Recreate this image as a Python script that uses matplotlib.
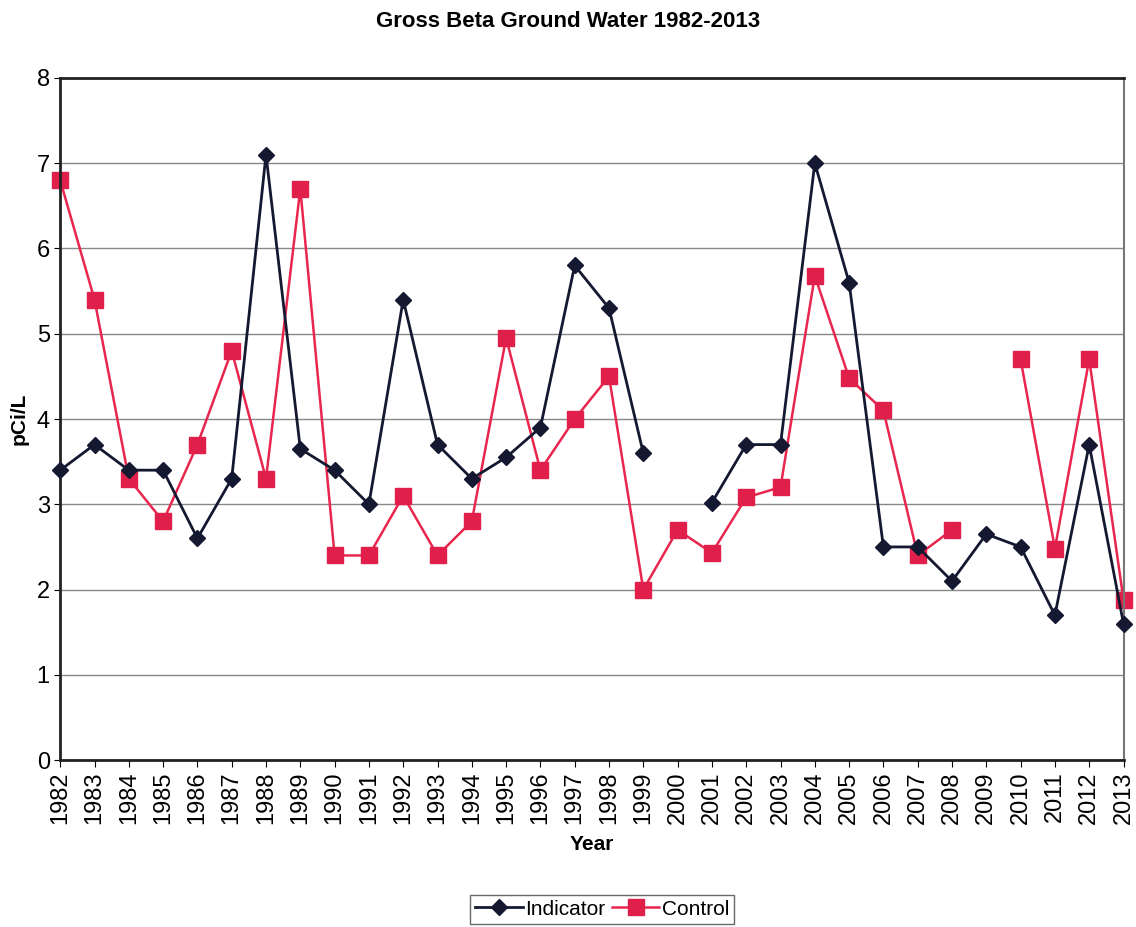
import numpy as np
import matplotlib.pyplot as plt

plt.rcParams['font.family'] = ['Liberation Sans', 'DejaVu Sans']

# data (nan = no sample that year)
years = list(range(1982, 2014))
indicator = [3.4, 3.7, 3.4, 3.4, 2.6, 3.3, 7.1, 3.65, 3.4, 3.0,
             5.4, 3.7, 3.3, 3.55, 3.9, 5.8, 5.3, 3.6, np.nan, 3.02,
             3.7, 3.7, 7.0, 5.6, 2.5, 2.5, 2.1, 2.65, 2.5, 1.7,
             3.7, 1.6]
control = [6.8, 5.4, 3.3, 2.8, 3.7, 4.8, 3.3, 6.7, 2.4, 2.4,
           3.1, 2.4, 2.8, 4.95, 3.4, 4.0, 4.5, 2.0, 2.7, 2.43,
           3.08, 3.2, 5.68, 4.48, 4.1, 2.4, 2.7, np.nan, 4.7, 2.48,
           4.7, 1.88]

fig = plt.figure(figsize=(11.36, 9.27), dpi=100)
ax = fig.add_axes([0.053, 0.180, 0.936, 0.736])

ax.plot(years, indicator, color='#141830', lw=2, marker='D', ms=8,
        label='Indicator', zorder=3, clip_on=False)
ax.plot(years, control, color='#e8264e', lw=1.8, marker='s', ms=12,
        mfc='#e0204a', mec='#e0204a', label='Control', zorder=2,
        clip_on=False)

ax.set_xlim(1982, 2013)
ax.set_ylim(0, 8)
ax.set_xticks(years)
ax.set_xticklabels([str(y) for y in years], rotation=90, fontsize=17)
ax.set_yticks(range(0, 9))
ax.tick_params(axis='y', labelsize=17, length=4)
ax.tick_params(axis='x', length=5, pad=3)
ax.yaxis.grid(True, color='#888888', lw=1)
ax.set_axisbelow(True)
for s in ['left', 'bottom', 'top']:
    ax.spines[s].set_color('#222222')
    ax.spines[s].set_linewidth(2)
ax.spines['right'].set_color('#777777')
ax.spines['right'].set_linewidth(1.5)

ax.set_xlabel('Year', fontsize=15, fontweight='bold', labelpad=8)
ax.set_ylabel('pCi/L', fontsize=15, fontweight='bold', labelpad=6)
fig.suptitle('Gross Beta Ground Water 1982-2013', fontsize=16,
             fontweight='bold', y=0.988)

fig.legend(loc='lower center', bbox_to_anchor=(0.53, -0.008), ncol=2,
           fontsize=15, frameon=True, fancybox=False, edgecolor='#444444',
           handlelength=2.3, handletextpad=0.1, columnspacing=0.3,
           borderpad=0.25)

plt.savefig('out.png', dpi=100)
